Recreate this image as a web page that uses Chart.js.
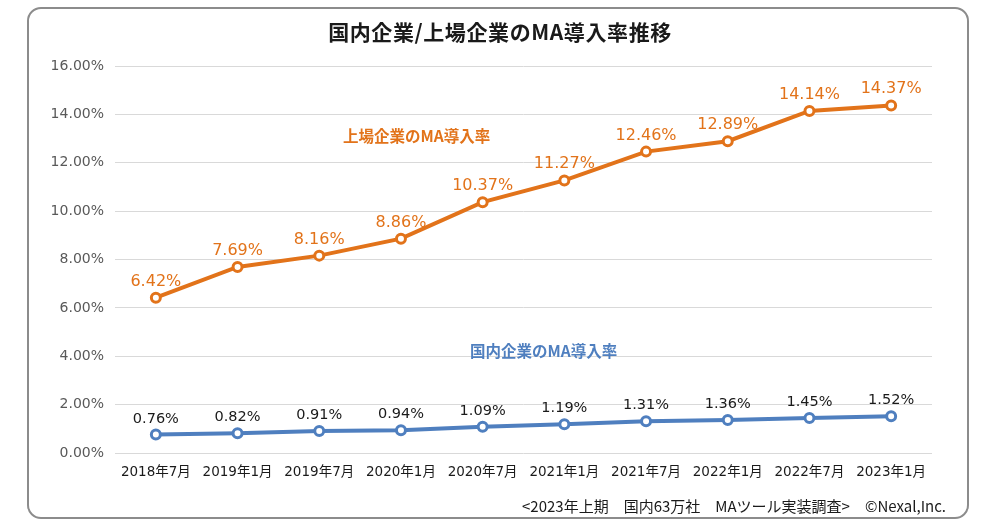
<!DOCTYPE html>
<html lang="ja">
<head>
<meta charset="utf-8">
<script src="https://cdn.jsdelivr.net/npm/chart.js@4"></script>
<style>
  html, body { margin: 0; padding: 0; background: #fff; }
  body { width: 1000px; height: 522px; position: relative; overflow: hidden;
         font-family: "Noto Sans CJK JP", "Noto Sans", sans-serif; }
  .frame { position: absolute; left: 27px; top: 7px; width: 942px; height: 512px;
           border: 2px solid #8c8c8c; border-radius: 14px; box-sizing: border-box; }
  #wrap { position: absolute; left: 0; top: 0; width: 1000px; height: 522px; }
  .title { position: absolute; left: 0; width: 1000px; top: 17px; text-align: center;
           font-size: 21px; font-weight: 700; color: #1a1a1a; line-height: 28px; letter-spacing: 0.6px; }
  .note { position: absolute; font-size: 15.5px; font-weight: 700; white-space: nowrap; line-height: 22px; }
  .footer { position: absolute; right: 54px; top: 495px; font-size: 15px; font-weight: 400;
            color: #1a1a1a; white-space: nowrap; line-height: 22px; }
</style>
</head>
<body>
<div class="frame"></div>
<div id="wrap"><canvas id="chart" width="1000" height="522"></canvas></div>
<div class="title">国内企業/上場企業のMA導入率推移</div>
<div class="note" style="left:343px; top:124px; color:#E2731A;">上場企業のMA導入率</div>
<div class="note" style="left:470px; top:339px; color:#4F7FBF;">国内企業のMA導入率</div>
<div class="footer">&lt;2023年上期　国内63万社　MAツール実装調査&gt;　©Nexal,Inc.</div>
<script>
// data
const periods = ['2018年7月', '2019年1月', '2019年7月', '2020年1月', '2020年7月',
                 '2021年1月', '2021年7月', '2022年1月', '2022年7月', '2023年1月'];
const listedRate = [6.42, 7.69, 8.16, 8.86, 10.37, 11.27, 12.46, 12.89, 14.14, 14.37];
const domesticRate = [0.76, 0.82, 0.91, 0.94, 1.09, 1.19, 1.31, 1.36, 1.45, 1.52];
const yTicks = [0, 2, 4, 6, 8, 10, 12, 14, 16];

const orange = '#E2731A';
const blue = '#4F7FBF';
const numFont = '"DejaVu Sans", "Noto Sans CJK JP", sans-serif';

// value labels above each point
const valueLabels = {
  id: 'valueLabels',
  afterDatasetsDraw(chart) {
    const ctx = chart.ctx;
    ctx.save();
    ctx.textAlign = 'center';
    ctx.textBaseline = 'alphabetic';
    chart.data.datasets.forEach((ds, i) => {
      const meta = chart.getDatasetMeta(i);
      ctx.font = ds.labelFont;
      ctx.fillStyle = ds.labelColor;
      meta.data.forEach((pt, j) => {
        ctx.fillText(ds.data[j].toFixed(2) + '%', pt.x, pt.y - ds.labelGap);
      });
    });
    ctx.restore();
  }
};

new Chart(document.getElementById('chart'), {
  type: 'line',
  data: {
    labels: periods,
    datasets: [
      {
        data: listedRate,
        borderColor: orange,
        borderWidth: 4,
        pointRadius: 4.5,
        pointBorderWidth: 3,
        pointBackgroundColor: '#fff',
        pointBorderColor: orange,
        labelColor: orange,
        labelFont: '16px ' + numFont,
        labelGap: 12
      },
      {
        data: domesticRate,
        borderColor: blue,
        borderWidth: 4,
        pointRadius: 4.5,
        pointBorderWidth: 3,
        pointBackgroundColor: '#fff',
        pointBorderColor: blue,
        labelColor: '#1a1a1a',
        labelFont: '14.5px ' + numFont,
        labelGap: 12
      }
    ]
  },
  options: {
    responsive: false,
    animation: false,
    layout: { padding: { left: 0, right: 68, top: 66, bottom: 0 } },
    plugins: { legend: { display: false }, tooltip: { enabled: false } },
    scales: {
      x: {
        offset: true,
        grid: { display: false },
        border: { display: false },
        ticks: {
          color: '#1a1a1a',
          font: { size: 13.5, family: numFont },
          padding: 3,
          maxRotation: 0,
          autoSkip: false
        },
        afterFit: s => { s.height = 69; }
      },
      y: {
        min: 0,
        max: 16,
        afterBuildTicks: s => { s.ticks = yTicks.map(v => ({ value: v })); },
        grid: { color: '#d9d9d9', drawTicks: false },
        border: { display: false },
        ticks: {
          color: '#595959',
          font: { size: 14, family: numFont },
          padding: 11,
          callback: v => v.toFixed(2) + '%'
        },
        afterFit: s => { s.width = 115; }
      }
    }
  },
  plugins: [valueLabels]
});
</script>
</body>
</html>
